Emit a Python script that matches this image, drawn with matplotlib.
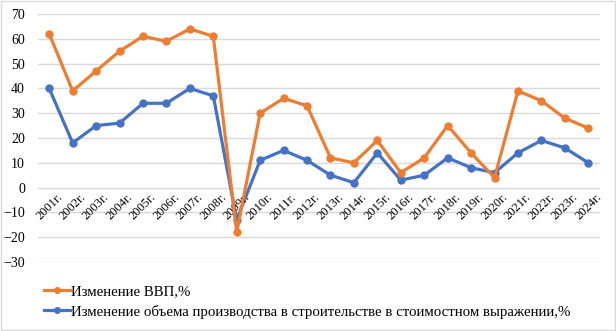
import matplotlib.pyplot as plt
from matplotlib.patches import Rectangle
from matplotlib.lines import Line2D

plt.rcParams['font.family'] = ['Liberation Serif', 'DejaVu Serif']

years = [f'{y}г.' for y in range(2001, 2025)]
gdp = [62, 39, 47, 55, 61, 59, 64, 61, -18, 30, 36, 33,
       12, 10, 19, 6, 12, 25, 14, 4, 39, 35, 28, 24]
construction = [40, 18, 25, 26, 34, 34, 40, 37, -13, 11, 15, 11,
                5, 2, 14, 3, 5, 12, 8, 6, 14, 19, 16, 10]

orange = '#ED7D31'
blue = '#4472C4'

fig = plt.figure(figsize=(6.16, 3.31), dpi=100)
fig.patches.append(Rectangle((0.001, 0.002), 0.997, 0.995, transform=fig.transFigure,
                             fill=False, edgecolor='#d9d9d9', linewidth=1))
ax = fig.add_axes([37.5 / 616, 1 - 262 / 331, (600 - 37.5) / 616, 248 / 331])

x = list(range(len(years)))
ax.plot(x, construction, color=blue, lw=2.3, marker='o', ms=5, zorder=3,
        solid_capstyle='round')
ax.plot(x, gdp, color=orange, lw=2.3, marker='o', ms=5, zorder=4,
        solid_capstyle='round')

ax.set_xlim(-0.5, len(years) - 0.5)
ax.set_ylim(-30, 70)
ax.set_yticks(range(-30, 71, 10))
ax.tick_params(axis='y', length=0, pad=9, labelsize=10)
ax.set_xticks([])
ax.grid(axis='y', color='#d9d9d9', lw=1)
ax.set_axisbelow(True)
for s in ax.spines.values():
    s.set_visible(False)

# year labels hang from the zero line
for i, lab in enumerate(years):
    ax.text(i + 0.3, -1.5, lab, rotation=45, ha='right', va='top',
            fontsize=9, rotation_mode='anchor')

handles = [Line2D([], [], color=orange, lw=2.3, marker='o', ms=4),
           Line2D([], [], color=blue, lw=2.3, marker='o', ms=4)]
labels = ['Изменение ВВП,%',
          'Изменение объема производства в строительстве в стоимостном выражении,%']
fig.legend(handles, labels, loc='upper left', bbox_to_anchor=(37 / 616, 1 - 277 / 331),
           frameon=False, fontsize=10.7, handlelength=1.7, handletextpad=0.1,
           labelspacing=0.45, borderpad=0)

fig.savefig('out.png', dpi=100)
